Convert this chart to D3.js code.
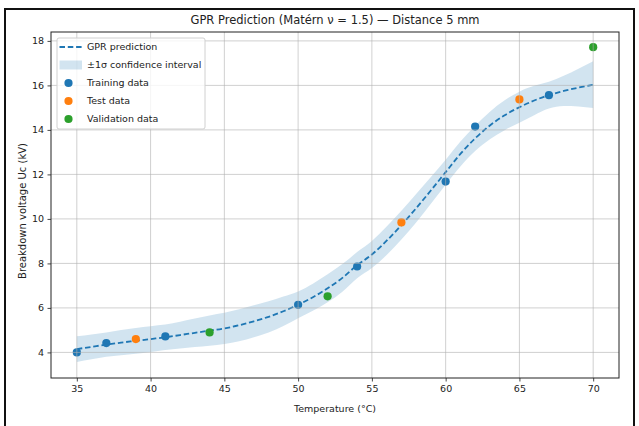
<!DOCTYPE html>
<html>
<head>
<meta charset="utf-8">
<script src="https://cdn.jsdelivr.net/npm/d3@7"></script>
<style>
  html, body { margin: 0; padding: 0; background: #fff; }
  svg text { font-family: "DejaVu Sans", sans-serif; fill: #222; }
</style>
</head>
<body>
<svg id="chart" width="639" height="426"></svg>
<script>
// GPR prediction grid (temperature, °C) with posterior mean and 1σ (kV)
const gridTemp = [35,36,37,38,39,40,41,42,43,44,45,46,47,48,49,50,51,52,53,54,55,56,57,58,59,60,61,62,63,64,65,66,67,68,69,70];
const gprMean  = [4.15,4.25,4.35,4.44,4.52,4.60,4.68,4.78,4.88,4.98,5.08,5.22,5.40,5.60,5.85,6.14,6.48,6.88,7.35,7.92,8.40,9.02,9.72,10.48,11.28,12.10,12.92,13.62,14.20,14.66,15.02,15.32,15.56,15.75,15.90,16.03];
const gprStd   = [0.58,0.56,0.55,0.57,0.58,0.58,0.57,0.60,0.64,0.68,0.70,0.72,0.72,0.70,0.66,0.60,0.61,0.63,0.62,0.59,0.61,0.64,0.65,0.64,0.60,0.56,0.56,0.57,0.62,0.67,0.70,0.66,0.60,0.68,0.85,1.05];

// Measured breakdown voltages
const trainTemp = [35,37,41,50,54,60,62,67];
const trainVolt = [4.0,4.42,4.72,6.14,7.86,11.68,14.15,15.56];
const testTemp  = [39,57,65];
const testVolt  = [4.60,9.84,15.37];
const validTemp = [44,52,70];
const validVolt = [4.90,6.52,17.72];

const xTicks = [35,40,45,50,55,60,65,70];
const yTicks = [4,6,8,10,12,14,16,18];

const C_BLUE = "#1f77b4", C_ORANGE = "#ff7f0e", C_GREEN = "#2ca02c";

const svg = d3.select("#chart");
const L = 51, R = 619, T = 32, B = 378;

const x = d3.scaleLinear().domain([33.25, 71.75]).range([L, R]);
const y = d3.scaleLinear().domain([2.85, 18.40]).range([B, T]);

// outer frame
svg.append("path")
  .attr("d", `M5,430 L5,9 L634,9 L634,430`)
  .attr("fill", "none").attr("stroke", "#111").attr("stroke-width", 2);

// title
svg.append("text").attr("x", (L + R) / 2).attr("y", 24)
  .attr("text-anchor", "middle").style("font-size", "11.5px")
  .text("GPR Prediction (Matérn ν = 1.5) — Distance 5 mm");

const plot = svg.append("g");

const band = gridTemp.map((t, i) => ({ t, m: gprMean[i], s: gprStd[i] }));

// ±1σ confidence band
plot.append("path")
  .datum(band)
  .attr("d", d3.area().curve(d3.curveMonotoneX)
    .x(d => x(d.t)).y0(d => y(d.m - d.s)).y1(d => y(d.m + d.s)))
  .attr("fill", C_BLUE).attr("fill-opacity", 0.2);

// posterior mean
plot.append("path")
  .datum(band)
  .attr("d", d3.line().curve(d3.curveMonotoneX).x(d => x(d.t)).y(d => y(d.m)))
  .attr("fill", "none").attr("stroke", C_BLUE)
  .attr("stroke-width", 1.8).attr("stroke-dasharray", "5.5,2.8");

function scatter(ts, vs, color) {
  plot.append("g").selectAll("circle")
    .data(ts.map((t, i) => [t, vs[i]]))
    .join("circle")
    .attr("cx", d => x(d[0])).attr("cy", d => y(d[1]))
    .attr("r", 4.1).attr("fill", color);
}
scatter(trainTemp, trainVolt, C_BLUE);
scatter(testTemp, testVolt, C_ORANGE);
scatter(validTemp, validVolt, C_GREEN);

// grid on top, semi-transparent
const grid = svg.append("g").attr("stroke", "#b0b0b0").attr("stroke-opacity", 0.6).attr("stroke-width", 1);
xTicks.forEach(t => grid.append("line").attr("x1", x(t)).attr("x2", x(t)).attr("y1", T).attr("y2", B));
yTicks.forEach(t => grid.append("line").attr("x1", L).attr("x2", R).attr("y1", y(t)).attr("y2", y(t)));

// axes
const xAxis = svg.append("g").attr("transform", `translate(0,${B})`)
  .call(d3.axisBottom(x).tickValues(xTicks).tickSize(3.5).tickPadding(4).tickFormat(d3.format("d")));
const yAxis = svg.append("g").attr("transform", `translate(${L},0)`)
  .call(d3.axisLeft(y).tickValues(yTicks).tickSize(3.5).tickPadding(3.5).tickFormat(d3.format("d")));
[xAxis, yAxis].forEach(g => {
  g.select(".domain").remove();
  g.selectAll("text").style("font-size", "9.5px").style("font-family", "DejaVu Sans").attr("fill", "#222");
  g.selectAll("line").attr("stroke", "#333").attr("stroke-width", 0.9);
});

// spines
svg.append("rect").attr("x", L).attr("y", T).attr("width", R - L).attr("height", B - T)
  .attr("fill", "none").attr("stroke", "#222").attr("stroke-width", 1);

// axis labels
svg.append("text").attr("x", (L + R) / 2).attr("y", 412)
  .attr("text-anchor", "middle").style("font-size", "9.5px").text("Temperature (°C)");
svg.append("text").attr("transform", `translate(26,${(T + B) / 2 + 6}) rotate(-90)`)
  .attr("text-anchor", "middle").style("font-size", "10px").text("Breakdown voltage Uc (kV)");

// legend
const lg = svg.append("g").attr("transform", "translate(57,38)");
lg.append("rect").attr("width", 148).attr("height", 91).attr("rx", 2)
  .attr("fill", "#fff").attr("fill-opacity", 0.8).attr("stroke", "#d0d0d0").attr("stroke-width", 1);
const rowY = [9, 27, 45, 63, 81];
const labels = ["GPR prediction", "±1σ confidence interval", "Training data", "Test data", "Validation data"];
lg.append("line").attr("x1", 2.5).attr("x2", 25).attr("y1", rowY[0]).attr("y2", rowY[0])
  .attr("stroke", C_BLUE).attr("stroke-width", 1.8).attr("stroke-dasharray", "5.5,2.8");
lg.append("rect").attr("x", 2.5).attr("y", rowY[1] - 4.5).attr("width", 22.5).attr("height", 9)
  .attr("fill", C_BLUE).attr("fill-opacity", 0.2);
[C_BLUE, C_ORANGE, C_GREEN].forEach((c, i) =>
  lg.append("circle").attr("cx", 11.5).attr("cy", rowY[i + 2]).attr("r", 4.1).attr("fill", c));
labels.forEach((s, i) =>
  lg.append("text").attr("x", 30).attr("y", rowY[i] + 3.4).style("font-size", "9.5px").text(s));
</script>
</body>
</html>
